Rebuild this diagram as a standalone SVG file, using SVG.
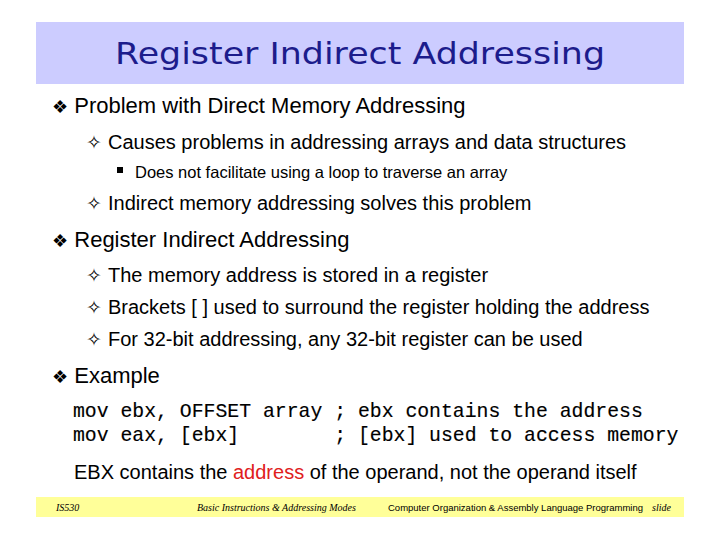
<svg xmlns="http://www.w3.org/2000/svg" width="720" height="540" viewBox="0 0 720 540">
<style>
.t{font-family:"Liberation Sans",Arial,sans-serif;fill:#000}
.b1{font-size:22px}.b2{font-size:20px}.b3{font-size:16.5px}
.sym{font-family:"DejaVu Sans",sans-serif}
.m{font-family:"Liberation Mono","Courier New",monospace;font-size:19.8px;fill:#000;stroke:#000;stroke-width:0.15}
.f{font-family:"Liberation Serif",serif;font-style:italic;font-size:10px;fill:#000}
</style>
<rect width="720" height="540" fill="#fff"/>
<g id="title">
<rect x="36" y="22" width="648" height="62" fill="#ccccff"/>
<text x="360" y="64" text-anchor="middle" font-family="'DejaVu Sans',sans-serif" font-size="31" fill="#1c1c8c" textLength="490" lengthAdjust="spacingAndGlyphs">Register Indirect Addressing</text>
</g>
<g id="body">
<text class="t b1" x="52" y="113"><tspan class="sym" font-size="18">❖</tspan> Problem with Direct Memory Addressing</text>
<text class="t b2" x="86" y="149"><tspan class="sym" font-size="19">✧</tspan><tspan x="108">Causes problems in addressing arrays and data structures</tspan></text>
<rect x="117" y="167" width="6" height="6" fill="#000"/>
<text class="t b3" x="135" y="178">Does not facilitate using a loop to traverse an array</text>
<text class="t b2" x="86" y="210"><tspan class="sym" font-size="19">✧</tspan><tspan x="108">Indirect memory addressing solves this problem</tspan></text>
<text class="t b1" x="52" y="247"><tspan class="sym" font-size="18">❖</tspan> Register Indirect Addressing</text>
<text class="t b2" x="86" y="282"><tspan class="sym" font-size="19">✧</tspan><tspan x="108">The memory address is stored in a register</tspan></text>
<text class="t b2" x="86" y="314"><tspan class="sym" font-size="19">✧</tspan><tspan x="108">Brackets [ ] used to surround the register holding the address</tspan></text>
<text class="t b2" x="86" y="346"><tspan class="sym" font-size="19">✧</tspan><tspan x="108">For 32-bit addressing, any 32-bit register can be used</tspan></text>
<text class="t b1" x="52" y="383"><tspan class="sym" font-size="18">❖</tspan> Example</text>
<text class="m" x="73" y="417" xml:space="preserve">mov ebx, OFFSET array ; ebx contains the address</text>
<text class="m" x="73" y="441" xml:space="preserve">mov eax, [ebx]        ; [ebx] used to access memory</text>
<text class="t b2" x="74" y="479">EBX contains the <tspan fill="#e0201c">address</tspan> of the operand, not the operand itself</text>
</g>
<g id="footer">
<rect x="36" y="497" width="648" height="20" fill="#ffff99"/>
<text class="f" x="56" y="511">IS530</text>
<text class="f" x="197" y="511">Basic Instructions &amp; Addressing Modes</text>
<text x="388" y="511" font-family="'Liberation Sans',Arial,sans-serif" font-size="9.5" fill="#000">Computer Organization &amp; Assembly Language Programming</text>
<text class="f" x="652" y="511">slide</text>
</g>
</svg>
